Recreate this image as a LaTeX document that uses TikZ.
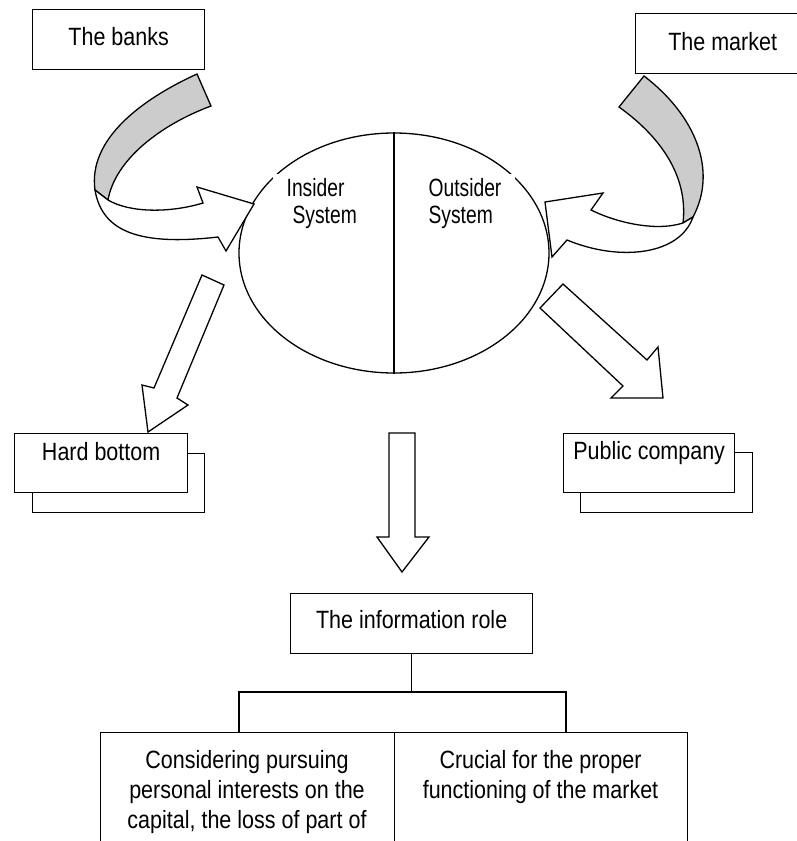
\documentclass[tikz,border=0pt]{standalone}
\usepackage{fontspec}
\setmainfont{Liberation Sans}[FakeStretch=0.86]
\newfontfamily\narrowfont{Liberation Sans}[FakeStretch=0.77]
\usetikzlibrary{shapes.geometric}
\definecolor{ribbongray}{RGB}{204,204,204}
\begin{document}
\begin{tikzpicture}[x=1pt, y=-1pt, line width=1.3pt, line join=miter,
  every node/.style={font=\fontsize{25}{30}\selectfont},
  box/.style={draw, fill=white, inner xsep=0pt, inner ysep=0pt, anchor=north west},
  textblock/.style={inner sep=0pt, align=center, anchor=north},
  syslabel/.style={fill=white, inner xsep=14pt, inner ysep=4pt, align=left, anchor=north west,
    font=\narrowfont\fontsize{25}{27}\selectfont},
  blockarrow/.style={draw, fill=white},
  ribbonback/.style={draw, fill=ribbongray}]

\useasboundingbox (0,0) rectangle (797,841);
\clip (0,0) rectangle (797,841);

% top source boxes
\node[box, minimum width=172pt, text height=36pt, text depth=24pt] (banks) at (32,9) {The banks};
\node[box, minimum width=174pt, text height=37pt, text depth=23pt] (market) at (635,13) {The market};

% central two-part ellipse
\node[draw, ellipse, minimum width=310pt, minimum height=240pt, inner sep=0pt] (sys) at (394,253) {};
\draw (sys.north) -- (sys.south);
\node[syslabel] (insider) at (272,173) {\strut Insider\\\hspace*{6pt}System};
\node[syslabel] (outsider) at (414,173) {\strut Outsider\\System};

% stacked result boxes
\node[box, minimum width=172pt, minimum height=59pt] (hardback) at (32,453) {};
\node[box, minimum width=173pt, text height=27pt, text depth=32pt] (hard) at (14,433) {Hard bottom};
\node[box, minimum width=172pt, minimum height=60pt] (publicback) at (580,452) {};
\node[box, minimum width=171pt, text height=26pt, text depth=33pt] (public) at (563,433) {Public company};

% information role and its two branches
\node[box, minimum width=242pt, text height=35pt, text depth=25pt] (info) at (290,593) {The information role};
\node[box, minimum width=294pt, minimum height=130pt] (leftbox) at (100,732) {};
\node[box, minimum width=293pt, minimum height=130pt] (rightbox) at (394,732) {};
\node[textblock] (lefttext) at (247,747) {\strut Considering pursuing\\personal interests on the\\capital, the loss of part of};
\node[textblock] (righttext) at (540.5,747) {\strut Crucial for the proper\\functioning of the market};

\coordinate (forkL) at (239,692);
\coordinate (forkR) at (566,692);
\draw (info.south) -- (info.south |- forkL);
\draw (forkL |- leftbox.north) -- (forkL) -- (forkR) -- (forkR |- rightbox.north);

% twisted ribbon arrow from the banks
\draw[ribbonback] (197,74) .. controls (140,100) and (88,140) .. (95,190)
  -- (108,200) .. controls (115,160) and (160,125) .. (211,106) -- cycle;
\draw[blockarrow] (95,190) .. controls (102,232) and (140,246) .. (218,237)
  -- (226,251) -- (254,204) -- (197,187) -- (203,203)
  .. controls (170,213) and (130,213) .. (108,200) -- cycle;

% twisted ribbon arrow from the market
\draw[ribbonback] (644,76) .. controls (695,115) and (718,170) .. (693,217)
  -- (683,223) .. controls (688,180) and (665,140) .. (619,107) -- cycle;
\draw[blockarrow] (693,217) .. controls (680,255) and (620,262) .. (567,240)
  -- (552,257) -- (545,202) -- (603,193) -- (591,210)
  .. controls (615,222) and (655,232) .. (683,223) -- cycle;

% straight block arrows
\draw[blockarrow] (202,275) -- (224,285) -- (177,398) -- (188,405) -- (148,432)
  -- (142,385) -- (154,388) -- cycle;
\draw[blockarrow] (563,284) -- (540,308) -- (623,386) -- (611,398) -- (663,398)
  -- (658,347) -- (647,360) -- cycle;
\draw[blockarrow] (389,433) -- (415,433) -- (415,537) -- (429,537) -- (402,572)
  -- (377,537) -- (389,537) -- cycle;
\end{tikzpicture}
\end{document}
